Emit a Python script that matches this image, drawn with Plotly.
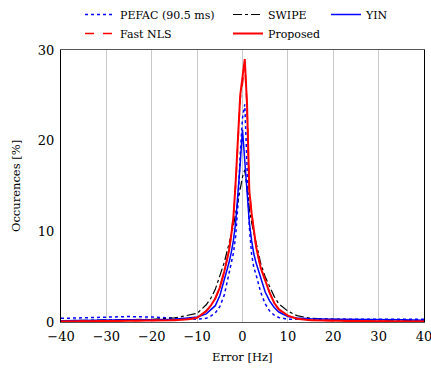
import plotly.graph_objects as go

x_err = [-40, -35, -30, -25, -20, -15, -12, -10, -8, -7, -6, -5, -4, -3, -2.5, -2, -1.5, -1, -0.5,
         0, 0.5, 1, 1.5, 2, 2.5, 3, 4, 5, 6, 7, 8, 10, 12, 15, 20, 25, 30, 35, 40]

pefac = [0.4, 0.45, 0.55, 0.6, 0.55, 0.45, 0.35, 0.3, 0.4, 0.65, 1.0, 1.7, 3.0, 5.3, 6.8, 7.6, 9.5, 13.0, 18.5,
         22.5, 24.0, 16.0, 10.5, 7.5, 6.0, 5.2, 3.3, 2.0, 1.2, 0.75, 0.5, 0.3, 0.3, 0.35, 0.35, 0.35, 0.35, 0.3, 0.3]

swipe = [0.15, 0.2, 0.2, 0.25, 0.3, 0.45, 0.7, 0.95, 1.9, 2.6, 3.6, 5.0, 6.6, 8.6, 9.6, 10.6, 12.0, 13.5, 15.0,
         16.0, 16.8, 14.5, 12.5, 11.0, 9.8, 8.6, 6.5, 5.0, 3.8, 2.8, 2.0, 1.2, 0.7, 0.4, 0.3, 0.25, 0.2, 0.2, 0.15]

yin = [0.15, 0.2, 0.2, 0.25, 0.25, 0.3, 0.45, 0.55, 0.9, 1.3, 1.8, 2.9, 4.6, 6.5, 7.6, 9.0, 11.0, 13.8, 17.5,
       21.2, 17.5, 13.8, 11.0, 9.0, 7.5, 6.5, 4.9, 3.3, 2.3, 1.6, 1.1, 0.6, 0.45, 0.35, 0.3, 0.3, 0.28, 0.25, 0.2]

fast_nls = [0.05, 0.07, 0.08, 0.1, 0.12, 0.2, 0.3, 0.45, 1.2, 1.8, 2.6, 3.8, 5.6, 7.8, 9.5, 11.6, 15.2, 19.8, 24.6,
            26.3, 28.6, 23.8, 14.5, 12.0, 10.0, 8.3, 6.0, 4.6, 3.2, 2.1, 1.4, 0.7, 0.35, 0.2, 0.12, 0.1, 0.08, 0.06, 0.05]

proposed = [0.05, 0.07, 0.08, 0.1, 0.12, 0.2, 0.3, 0.45, 1.2, 1.8, 2.6, 3.8, 5.6, 7.8, 9.5, 11.6, 15.5, 20.0, 25.0,
            27.0, 29.0, 24.0, 14.5, 12.0, 10.0, 8.3, 6.0, 4.6, 3.2, 2.1, 1.4, 0.7, 0.35, 0.2, 0.12, 0.1, 0.08, 0.06, 0.05]

x_ticks = [-40, -30, -20, -10, 0, 10, 20, 30, 40]
y_ticks = [0, 10, 20, 30]

FONT = "DejaVu Serif"
W, H = 431, 370
ML, MR, MT, MB = 61, 7, 50, 48
PW, PH = W - ML - MR, H - MT - MB

fig = go.Figure()
fig.add_trace(go.Scatter(x=x_err, y=pefac, mode="lines", name="PEFAC (90.5 ms)",
                         line=dict(color="#0000ff", width=1.5, dash="dot"), legend="legend"))
fig.add_trace(go.Scatter(x=x_err, y=swipe, mode="lines", name="SWIPE",
                         line=dict(color="#000000", width=1.2, dash="dashdot"), legend="legend2"))
fig.add_trace(go.Scatter(x=x_err, y=yin, mode="lines", name="YIN",
                         line=dict(color="#0000ff", width=1.5), legend="legend3"))
fig.add_trace(go.Scatter(x=x_err, y=fast_nls, mode="lines", name="Fast NLS",
                         line=dict(color="#ff0000", width=1.5, dash="dash"), legend="legend"))
fig.add_trace(go.Scatter(x=x_err, y=proposed, mode="lines", name="Proposed",
                         line=dict(color="#ff0000", width=2), legend="legend2"))

leg_common = dict(xref="container", yref="container", yanchor="top", xanchor="left",
                  orientation="v", bgcolor="rgba(0,0,0,0)", borderwidth=0,
                  font=dict(family=FONT, size=11, color="#000"), tracegroupgap=0)

fig.update_layout(
    width=W, height=H,
    margin=dict(l=ML, r=MR, t=MT, b=MB, autoexpand=False),
    paper_bgcolor="white", plot_bgcolor="white",
    font=dict(family=FONT, size=13, color="#000"),
    legend=dict(x=80 / W, y=1 - 0 / H, **leg_common),
    legend2=dict(x=228 / W, y=1 - 0 / H, **leg_common),
    legend3=dict(x=326 / W, y=1 - 0 / H, **leg_common),
    xaxis=dict(range=[-40, 40], tickvals=x_ticks, showgrid=True, gridcolor="#c8c8c8", gridwidth=1,
               zeroline=False, showline=True, linecolor="#555555", linewidth=1, mirror=True,
               ticks="", tickfont=dict(family=FONT, size=13), ticklabeloverflow="allow",
               ticklabelstandoff=2),
    yaxis=dict(range=[0, 30], tickvals=y_ticks, showgrid=False, zeroline=False,
               showline=True, linecolor="#000000", linewidth=1, mirror=True,
               ticks="", tickfont=dict(family=FONT, size=13), ticklabelstandoff=3),
    annotations=[
        dict(text="Error [Hz]", xref="paper", yref="paper", x=0.5, y=(0 - (357 - (MT + PH))) / PH,
             xanchor="center", yanchor="middle", showarrow=False,
             font=dict(family=FONT, size=11.5, color="#000")),
        dict(text="Occurences [%]", xref="paper", yref="paper", x=(16 - ML) / PW, y=0.5,
             xanchor="center", yanchor="middle", showarrow=False, textangle=-90,
             font=dict(family=FONT, size=11.5, color="#000")),
    ],
)

fig.write_html("out.html")
